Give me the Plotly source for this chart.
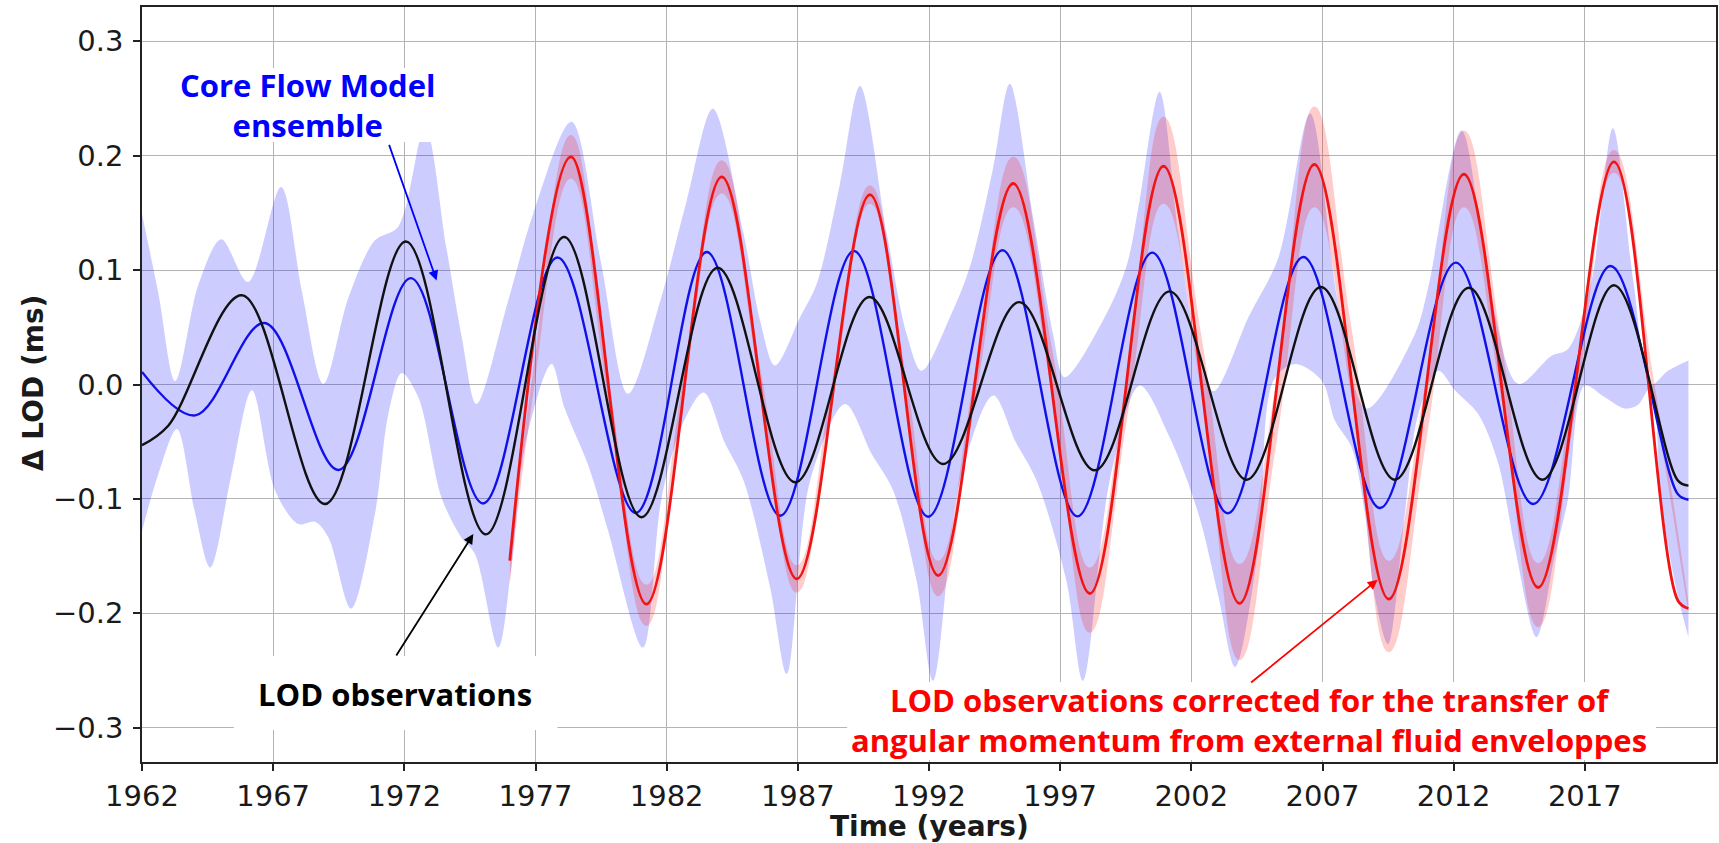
import plotly.graph_objects as go

# ---------------- data ----------------
# LOD observations (black): start, successive extrema, end
obs_year = [1962.0, 1963.0, 1965.81, 1968.98, 1972.06, 1975.11, 1978.09, 1981.04, 1983.94, 1986.90,
            1989.73, 1992.54, 1995.44, 1998.32, 2001.17, 2004.11, 2006.94, 2009.76, 2012.58, 2015.38,
            2018.11, 2020.55, 2020.95]
obs_lod = [-0.053, -0.036, 0.078, -0.1045, 0.125, -0.131, 0.129, -0.116, 0.102, -0.0855,
           0.0765, -0.0695, 0.072, -0.075, 0.0814, -0.0832, 0.0852, -0.0832, 0.0846, -0.0832,
           0.0867, -0.084, -0.0884]

# Core flow model ensemble mean (blue)
cfm_year = [1962.0, 1964.03, 1966.67, 1969.49, 1972.25, 1975.0, 1977.84, 1980.82, 1983.53, 1986.33,
            1989.14, 1991.97, 1994.80, 1997.66, 2000.51, 2003.39, 2006.27, 2009.19, 2012.08, 2015.03,
            2017.98, 2020.55, 2020.95]
cfm_lod = [0.011, -0.027, 0.0537, -0.0747, 0.093, -0.104, 0.111, -0.1123, 0.1158, -0.1147,
           0.1167, -0.1156, 0.1173, -0.1153, 0.1153, -0.1126, 0.1115, -0.108, 0.1065, -0.1045,
           0.1036, -0.096, -0.1007]

# Ensemble spread (blue band)
band_up_year = [1962.0, 1962.63, 1963.27, 1964.16, 1965.02, 1966.04, 1967.3, 1968.09, 1968.92, 1969.87,
                1970.88, 1971.77, 1972.79, 1973.6, 1974.2, 1974.75, 1975.96, 1976.91, 1978.37, 1979.51,
                1980.53, 1981.76, 1982.77, 1983.76, 1984.93, 1985.56, 1986.13, 1987.09, 1987.72, 1988.61,
                1989.37, 1990.39, 1991.15, 1991.72, 1992.8, 1993.56, 1994.45, 1995.08, 1995.97, 1996.73,
                1997.17, 1998.63, 1999.52, 2000.03, 2000.79, 2001.51, 2002.3, 2002.85, 2004.18, 2005.32,
                2006.53, 2007.6, 2008.68, 2010.52, 2011.03, 2012.30, 2013.4, 2014.46, 2015.72, 2016.36,
                2017.25, 2018.07, 2018.85, 2019.53, 2020.17, 2020.95]
band_up = [0.149, 0.079, 0.003, 0.088, 0.127, 0.0896, 0.1727, 0.082, 0.0006, 0.076,
           0.126, 0.138, 0.225, 0.12, 0.04, -0.017, 0.0735, 0.149, 0.2296, 0.105,
           -0.008, 0.0735, 0.161, 0.241, 0.132, 0.056, 0.0166, 0.059, 0.088, 0.176,
           0.261, 0.132, 0.044, 0.012, 0.059, 0.103, 0.19, 0.263, 0.146, 0.044,
           0.0064, 0.056, 0.103, 0.161, 0.256, 0.132, 0.02, -0.006, 0.059, 0.111,
           0.237, 0.07, -0.021, 0.044, 0.085, 0.222, 0.08, 0.0006, 0.025, 0.031,
           0.09, 0.224, 0.09, 0.0, 0.012, 0.021]
band_lo_year = [1962.0, 1962.6, 1963.33, 1964.0, 1964.60, 1965.4, 1966.19, 1967.08, 1967.96, 1968.6,
                1969.11, 1969.97, 1970.88, 1971.39, 1971.9, 1972.53, 1973.42, 1974.18, 1974.69, 1975.58,
                1976.09, 1976.59, 1977.61, 1978.1, 1979.0, 1979.77, 1981.10, 1981.8, 1982.6, 1983.41,
                1984.2, 1984.93, 1985.94, 1986.58, 1987.47, 1988.80, 1989.8, 1990.64, 1991.53, 1992.16,
                1993.18, 1994.45, 1995.3, 1996.10, 1997.24, 1997.87, 1998.89, 2000.03, 2001.17, 2002.27,
                2003.04, 2003.67, 2004.56, 2005.13, 2005.95, 2006.97, 2007.48, 2008.11, 2008.62, 2009.0,
                2009.5, 2010.14, 2010.65, 2011.41, 2012.05, 2012.94, 2013.7, 2014.33, 2015.16, 2015.85,
                2016.36, 2016.99, 2017.75, 2018.52, 2019.02, 2019.53, 2019.9, 2020.5, 2020.95]
band_lo = [-0.128, -0.08, -0.039, -0.11, -0.160, -0.08, -0.005, -0.093, -0.122, -0.120,
           -0.134, -0.196, -0.113, -0.026, 0.01, -0.011, -0.099, -0.134, -0.148, -0.230,
           -0.157, -0.055, 0.018, -0.02, -0.07, -0.128, -0.230, -0.10, -0.035, -0.007,
           -0.05, -0.084, -0.177, -0.253, -0.084, -0.017, -0.06, -0.093, -0.172, -0.259,
           -0.084, -0.0096, -0.05, -0.084, -0.172, -0.259, -0.084, -0.001, -0.046, -0.113,
           -0.186, -0.247, -0.142, 0.0035, 0.018, 0.0035, -0.032, -0.055, -0.113, -0.186,
           -0.227, -0.113, -0.026, 0.012, -0.005, -0.026, -0.069, -0.142, -0.221, -0.15,
           -0.10, -0.001, -0.011, -0.021, -0.018, -0.002, -0.10, -0.18, -0.221]

# LOD corrected for the transfer of angular momentum (red): start, extrema, end
cor_year = [1976.02, 1978.35, 1981.23, 1984.10, 1986.96, 1989.75, 1992.35, 1995.21, 1998.13, 2000.94,
            2003.84, 2006.69, 2009.53, 2012.39, 2015.22, 2018.11, 2020.55, 2020.95]
cor_lod = [-0.154, 0.199, -0.192, 0.1815, -0.170, 0.166, -0.167, 0.1757, -0.1827, 0.1908,
           -0.1914, 0.1923, -0.1876, 0.1838, -0.1774, 0.1946, -0.189, -0.1958]

# its uncertainty band (red band), extrema and zero crossings
cor_band_year = [1976.02, 1976.9, 1978.35, 1979.75, 1981.23, 1982.65, 1984.10, 1985.6, 1986.96, 1988.35,
                 1989.75, 1991.1, 1992.35, 1993.75, 1995.21, 1996.7, 1998.13, 1999.55, 2000.94, 2002.4,
                 2003.84, 2005.25, 2006.69, 2008.1, 2009.53, 2010.95, 2012.39, 2013.8, 2015.22, 2016.65,
                 2018.11, 2019.6, 2020.95]
cor_up = [-0.150, 0.01, 0.218, 0.01, -0.175, 0.008, 0.196, 0.01, -0.158, 0.008,
          0.174, 0.01, -0.154, 0.01, 0.199, 0.03, -0.160, 0.01, 0.234, 0.04,
          -0.157, 0.005, 0.243, 0.05, -0.154, 0.005, 0.222, 0.04, -0.156, 0.01,
          0.205, 0.008, -0.19]
cor_lo = [-0.175, -0.01, 0.180, -0.01, -0.211, -0.008, 0.167, -0.008, -0.182, -0.008,
          0.158, -0.01, -0.185, -0.015, 0.155, -0.01, -0.217, -0.03, 0.158, -0.01,
          -0.241, -0.05, 0.155, -0.01, -0.234, -0.05, 0.155, -0.01, -0.212, -0.02,
          0.185, -0.008, -0.20]

x_tick_vals = [1962, 1967, 1972, 1977, 1982, 1987, 1992, 1997, 2002, 2007, 2012, 2017]
x_tick_text = ["1962", "1967", "1972", "1977", "1982", "1987", "1992", "1997", "2002", "2007", "2012", "2017"]
y_tick_vals = [-0.3, -0.2, -0.1, 0.0, 0.1, 0.2, 0.3]
y_tick_text = ["\u22120.3", "\u22120.2", "\u22120.1", "0.0", "0.1", "0.2", "0.3"]

# ---------------- figure ----------------
W, H = 1719, 843
L, R, T, B = 142, 1, 7, 81
PW, PH = W - L - R, H - T - B


def px(xp):
    return (xp - L) / PW


def py(yp):
    return (H - B - yp) / PH


fig = go.Figure()

BLUE_BAND = "rgba(0,0,255,0.2)"
RED_BAND = "rgba(255,0,0,0.2)"

fig.add_trace(go.Scatter(x=band_up_year, y=band_up, mode="lines",
                         line=dict(width=0, shape="spline", smoothing=0.9, color=BLUE_BAND),
                         hoverinfo="skip", showlegend=False))
fig.add_trace(go.Scatter(x=band_lo_year, y=band_lo, mode="lines", fill="tonexty",
                         fillcolor=BLUE_BAND,
                         line=dict(width=0, shape="spline", smoothing=0.9, color=BLUE_BAND),
                         hoverinfo="skip", showlegend=False))
fig.add_trace(go.Scatter(x=cor_band_year, y=cor_up, mode="lines",
                         line=dict(width=0, shape="spline", smoothing=1.3, color=RED_BAND),
                         hoverinfo="skip", showlegend=False))
fig.add_trace(go.Scatter(x=cor_band_year, y=cor_lo, mode="lines", fill="tonexty",
                         fillcolor=RED_BAND,
                         line=dict(width=0, shape="spline", smoothing=1.3, color=RED_BAND),
                         hoverinfo="skip", showlegend=False))

fig.add_trace(go.Scatter(x=cfm_year, y=cfm_lod, mode="lines", name="Core flow model",
                         line=dict(color="#1010e8", width=2.4, shape="spline", smoothing=1.0),
                         showlegend=False))
fig.add_trace(go.Scatter(x=cor_year, y=cor_lod, mode="lines", name="LOD corrected",
                         line=dict(color="#f01414", width=2.8, shape="spline", smoothing=1.0),
                         showlegend=False))
fig.add_trace(go.Scatter(x=obs_year, y=obs_lod, mode="lines", name="LOD observations",
                         line=dict(color="#111111", width=2.4, shape="spline", smoothing=1.0),
                         showlegend=False))

axis_common = dict(showline=True, linecolor="#222222", linewidth=1.6, mirror=True,
                   showgrid=True, gridcolor="#b4b4b4", gridwidth=1.2,
                   ticks="outside", ticklen=7, tickwidth=1.5, tickcolor="#222222",
                   zeroline=False,
                   tickfont=dict(family="DejaVu Sans", size=29, color="#1a1a1a"))

fig.update_xaxes(range=[1962, 2022], tickvals=x_tick_vals, ticktext=x_tick_text, **axis_common)
fig.update_yaxes(range=[-0.33, 0.33], tickvals=y_tick_vals, ticktext=y_tick_text,
                 ticklabelstandoff=4, **axis_common)

# white boxes behind the text labels
boxes = [(178, 68, 438, 142), (234, 656, 558, 730), (848, 682, 1658, 760)]
shapes = []
for (x0, y0, x1, y1) in boxes:
    shapes.append(dict(type="rect", xref="paper", yref="paper",
                       x0=px(x0), x1=px(x1), y0=py(y1), y1=py(y0),
                       fillcolor="white", line=dict(width=0), layer="above"))

ann_font = dict(family="Open Sans", size=31, weight=700)
annotations = [
    dict(text="Core Flow Model<br>ensemble", xref="paper", yref="paper",
         x=px(308), y=py(105), showarrow=False, xanchor="center", yanchor="middle",
         font=dict(color="#0000ff", **ann_font)),
    dict(text="LOD observations", xref="paper", yref="paper",
         x=px(395), y=py(694), showarrow=False, xanchor="center", yanchor="middle",
         font=dict(color="#000000", **ann_font)),
    dict(text="LOD observations corrected for the transfer of<br>angular momentum from external fluid enveloppes",
         xref="paper", yref="paper", x=px(1250), y=py(720), showarrow=False,
         xanchor="center", yanchor="middle", font=dict(color="#ff0000", **ann_font)),
    # arrows
    dict(text="", x=1973.23, y=0.091, xref="x", yref="y", ax=-48, ay=-137,
         showarrow=True, arrowhead=2, arrowsize=1.1, arrowwidth=1.8, arrowcolor="#0000ff"),
    dict(text="", x=1974.63, y=-0.1307, xref="x", yref="y", ax=-78, ay=123,
         showarrow=True, arrowhead=2, arrowsize=1.1, arrowwidth=1.8, arrowcolor="#000000"),
    dict(text="", x=2009.10, y=-0.1707, xref="x", yref="y", ax=-128, ay=104,
         showarrow=True, arrowhead=2, arrowsize=1.1, arrowwidth=1.8, arrowcolor="#ff0000"),
    # axis titles
    dict(text="<b>Time (years)</b>", xref="paper", yref="paper", x=0.5, y=py(826),
         showarrow=False, xanchor="center", yanchor="middle",
         font=dict(family="DejaVu Sans", size=28, color="#1a1a1a")),
    dict(text="<b>\u0394 LOD (ms)</b>", xref="paper", yref="paper", x=px(33), y=py(383),
         showarrow=False, xanchor="center", yanchor="middle", textangle=-90,
         font=dict(family="DejaVu Sans", size=28, color="#1a1a1a")),
]

fig.update_layout(width=W, height=H, margin=dict(l=L, r=R, t=T, b=B),
                  paper_bgcolor="white", plot_bgcolor="white",
                  shapes=shapes, annotations=annotations, showlegend=False)

fig.write_html("out.html")
